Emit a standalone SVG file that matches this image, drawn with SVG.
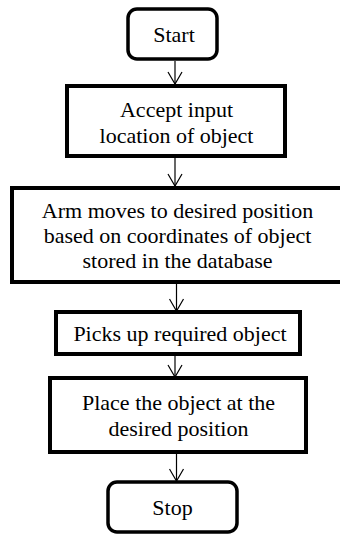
<svg xmlns="http://www.w3.org/2000/svg" width="340" height="535" viewBox="0 0 340 535">
  <defs>
    <style>
      .box { fill: #ffffff; stroke: #000000; stroke-width: 4; }
      .term { fill: #ffffff; stroke: #000000; stroke-width: 3.5; }
      .lbl { font-family: "Liberation Serif", "Times New Roman", serif; font-size: 22px; fill: #000000; text-anchor: middle; }
      .conn { stroke: #000000; stroke-width: 1.2; fill: none; }
    </style>
    <marker id="arr" markerWidth="16" markerHeight="16" refX="8" refY="13" orient="0" markerUnits="userSpaceOnUse">
      <path d="M1,1 L8,13 L15,1" fill="none" stroke="#000" stroke-width="1.2"/>
    </marker>
  </defs>
  <rect width="340" height="535" fill="#ffffff"/>
  <g id="connectors">
    <line class="conn" x1="175" y1="61" x2="175" y2="84" marker-end="url(#arr)"/>
    <line class="conn" x1="175" y1="158" x2="175" y2="186" marker-end="url(#arr)"/>
    <line class="conn" x1="176.5" y1="284" x2="176.5" y2="311" marker-end="url(#arr)"/>
    <line class="conn" x1="175" y1="356" x2="175" y2="377" marker-end="url(#arr)"/>
    <line class="conn" x1="176.5" y1="454" x2="176.5" y2="481" marker-end="url(#arr)"/>
  </g>
  <g id="start" font-family="'Liberation Serif', serif">
    <rect class="term" x="128" y="9" width="89" height="50" rx="9"/>
    <text class="lbl" x="174" y="41.5">Start</text>
  </g>
  <g id="accept" font-family="'Liberation Serif', serif">
    <rect class="box" x="67" y="86" width="218" height="70"/>
    <text class="lbl" x="176.5" y="117">Accept input</text>
    <text class="lbl" x="176.5" y="143">location of object</text>
  </g>
  <g id="arm" font-family="'Liberation Serif', serif">
    <rect class="box" x="12" y="188" width="334" height="94"/>
    <text class="lbl" x="177.5" y="218">Arm moves to desired position</text>
    <text class="lbl" x="177.5" y="243">based on coordinates of object</text>
    <text class="lbl" x="177.5" y="268">stored in the database</text>
  </g>
  <g id="picks" font-family="'Liberation Serif', serif">
    <rect class="box" x="56" y="312" width="244" height="42"/>
    <text class="lbl" x="180" y="341">Picks up required object</text>
  </g>
  <g id="place" font-family="'Liberation Serif', serif">
    <rect class="box" x="50" y="378" width="256" height="74"/>
    <text class="lbl" x="178.5" y="409.5">Place the object at the</text>
    <text class="lbl" x="178.5" y="435.5">desired position</text>
  </g>
  <g id="stop" font-family="'Liberation Serif', serif">
    <rect class="term" x="108" y="482" width="129" height="50" rx="9"/>
    <text class="lbl" x="172.5" y="515">Stop</text>
  </g>
</svg>
